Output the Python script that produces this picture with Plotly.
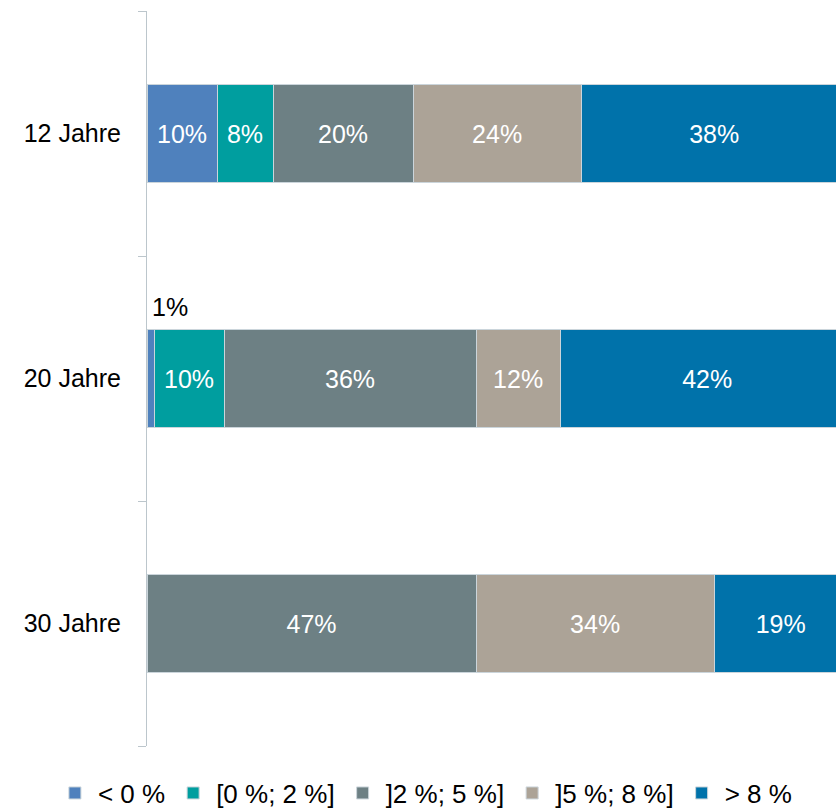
import plotly.graph_objects as go

categories = ["12 Jahre", "20 Jahre", "30 Jahre"]
series_names = ["< 0 %", "[0 %; 2 %]", "]2 %; 5 %]", "]5 %; 8 %]", "> 8 %"]
lt0 = [10, 1, 0]
p0_2 = [8, 10, 0]
p2_5 = [20, 36, 47]
p5_8 = [24, 12, 34]
gt8 = [38, 42, 19]
colors = ["#4F81BD", "#009E9F", "#6D8084", "#ACA397", "#0072AA"]

series = [lt0, p0_2, p2_5, p5_8, gt8]
FONT = "Liberation Sans, Arial, sans-serif"

fig = go.Figure()
for name, vals, col in zip(series_names, series, colors):
    texts = [f"{v}%" if v >= 5 else "" for v in vals]
    fig.add_trace(go.Bar(
        y=categories, x=vals, name=name, orientation="h",
        marker=dict(color=col, line=dict(color="#CBD5DB", width=1)),
        text=texts, textposition="inside", insidetextanchor="middle",
        textangle=0,
        textfont=dict(color="white", size=25, family=FONT),
        constraintext="none", hoverinfo="skip",
    ))

# small-value label above the bar
for i, cat in enumerate(categories):
    v = lt0[i]
    if 0 < v < 5:
        fig.add_annotation(x=0, y=cat, text=f"{v}%", showarrow=False,
                           xanchor="left", yanchor="middle", xshift=3, yshift=72,
                           font=dict(size=25, color="black", family=FONT))

fig.update_layout(
    barmode="stack",
    bargap=0.6,
    width=836, height=809,
    margin=dict(l=147, r=0, t=11, b=63, autoexpand=False),
    paper_bgcolor="white", plot_bgcolor="white",
    font=dict(family=FONT, size=25, color="black"),
    legend=dict(orientation="h", xref="paper", x=-0.138, xanchor="left",
                y=-0.064, yanchor="middle", font=dict(size=26),
                traceorder="normal", itemwidth=36, tracegroupgap=0),
    xaxis=dict(range=[0, 98.4], visible=False, fixedrange=True),
    yaxis=dict(categoryorder="array", categoryarray=categories[::-1],
               showline=True, linecolor="#BCC6CC", linewidth=1,
               ticks="outside", ticklen=8, tickcolor="#BCC6CC",
               tickson="boundaries", showgrid=False, zeroline=False,
               automargin=False,
               tickfont=dict(size=25, color="black"), ticklabelstandoff=20),
)

fig.write_html("out.html", config={"displayModeBar": False},
               post_script="document.body.style.margin='0';")
